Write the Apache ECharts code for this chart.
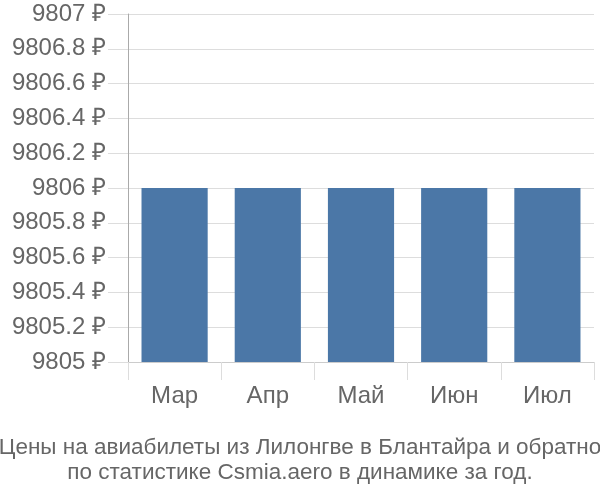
<!DOCTYPE html>
<html>
<head>
<meta charset="utf-8">
<script src="https://cdn.jsdelivr.net/npm/echarts@6/dist/echarts.min.js"></script>
<style>html,body{margin:0;padding:0;background:#fff}#c{width:600px;height:500px}</style>
</head>
<body>
<div id="c"></div>
<script>
const categories = ['Мар', 'Апр', 'Май', 'Июн', 'Июл'];
const prices = [9806, 9806, 9806, 9806, 9806];
const titleLines = ['Цены на авиабилеты из Лилонгве в Блантайра и обратно', 'по статистике Csmia.aero в динамике за год.'];

const chart = echarts.init(document.getElementById('c'));
chart.setOption({
  animation: false,
  textStyle: { fontFamily: 'Liberation Sans' },
  title: {
    text: titleLines.join('\n'),
    left: 'center',
    bottom: 10,
    textStyle: { fontSize: 22.5, fontWeight: 'normal', color: '#666', lineHeight: 25, fontFamily: 'Liberation Sans' }
  },
  grid: { left: 128, right: 6, top: 14, bottom: 138, containLabel: false },
  xAxis: {
    type: 'category',
    data: categories,
    axisLine: { show: true, lineStyle: { color: '#ccc' } },
    axisTick: { show: true, length: 18, lineStyle: { color: '#ddd' } },
    axisLabel: { fontSize: 24, color: '#666', margin: 22 }
  },
  yAxis: {
    type: 'value',
    min: 9805,
    max: 9807,
    interval: 0.2,
    axisLine: { show: true, lineStyle: { color: '#aaa' } },
    axisTick: { show: true, length: 20, lineStyle: { color: '#ddd' } },
    splitLine: { show: true, lineStyle: { color: '#ddd' } },
    axisLabel: {
      fontSize: 24, color: '#666', margin: 22,
      formatter: v => (Math.round(v * 10) / 10) + ' ₽'
    }
  },
  series: [{
    type: 'bar',
    data: prices,
    barWidth: '71%',
    itemStyle: { color: '#4b77a7' }
  }]
});
</script>
</body>
</html>
